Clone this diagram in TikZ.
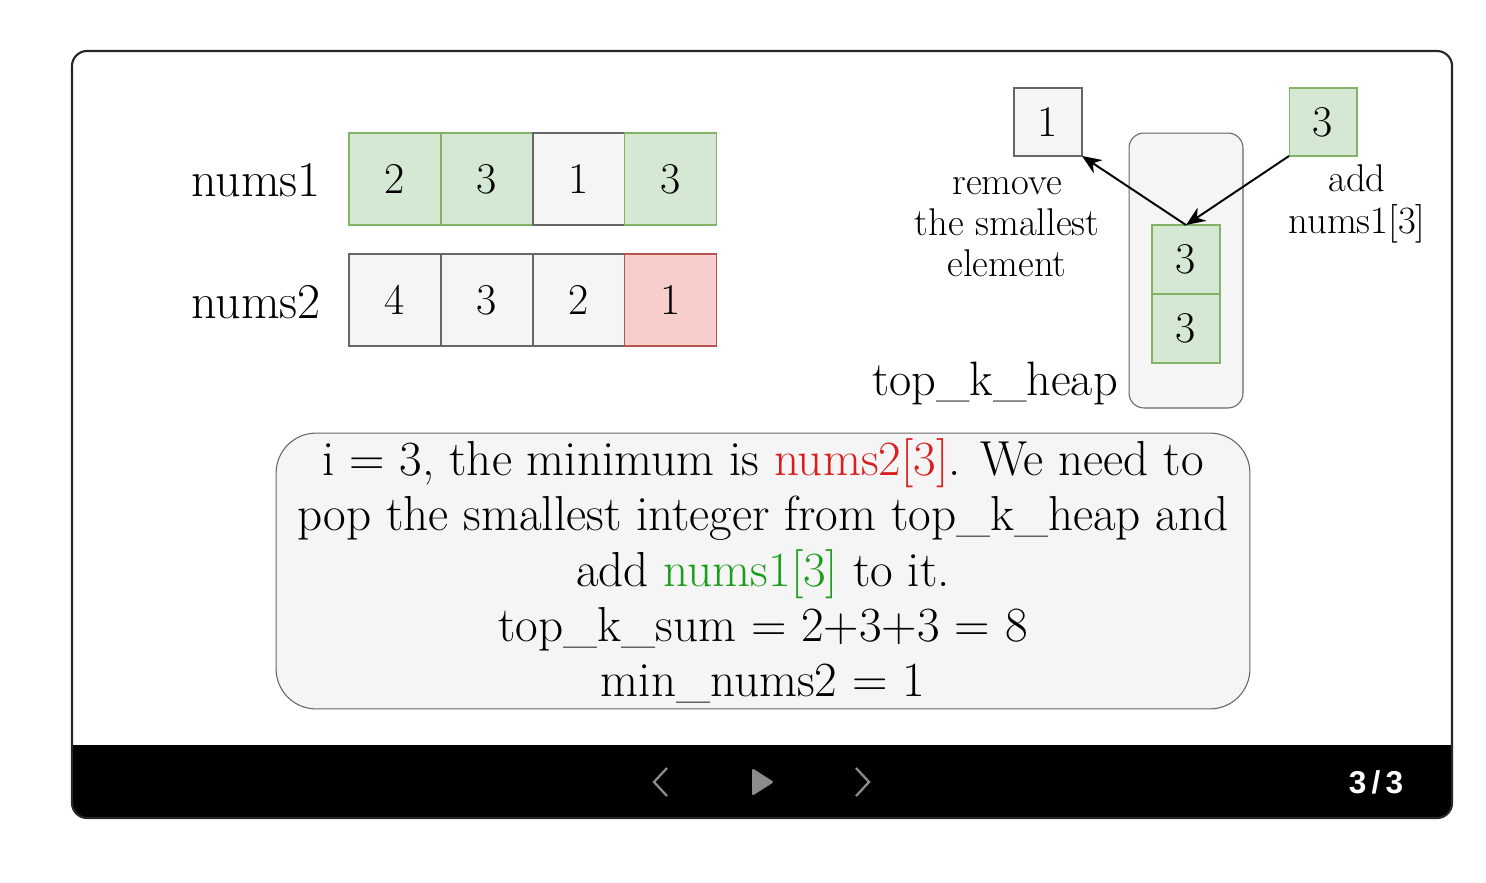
\documentclass[tikz,border=0pt]{standalone}
\usepackage{fontspec}
\newfontfamily\uifont{Liberation Sans}
\usepackage{tikz}
\usetikzlibrary{arrows.meta, positioning}
\definecolor{colorGreen}{HTML}{D5E8D4}
\definecolor{colorGreenLine}{HTML}{82B366}
\definecolor{colorGray}{HTML}{F5F5F5}
\definecolor{colorGrayLine}{HTML}{666666}
\definecolor{colorRed}{HTML}{F8CECC}
\definecolor{colorRedLine}{HTML}{B85450}
\definecolor{colorRedText}{HTML}{D91E1E}
\definecolor{colorGreenText}{HTML}{1C9E1C}
\definecolor{colorCtrl}{HTML}{8C8C8C}
\tikzstyle{cell} = [rectangle, minimum width=1.84cm, minimum height=1.84cm, inner sep=0pt, outer sep=0pt, line width=0.6pt, text centered, font=\fontsize{25}{28}\selectfont]
\tikzstyle{greencell} = [cell, draw=colorGreenLine, fill=colorGreen]
\tikzstyle{graycell} = [cell, draw=colorGrayLine, fill=colorGray]
\tikzstyle{redcell} = [cell, draw=colorRedLine, fill=colorRed]
\tikzstyle{heapcell} = [greencell, minimum width=1.36cm, minimum height=1.38cm]
\tikzstyle{smallbox} = [cell, minimum width=1.36cm, minimum height=1.36cm]
\tikzstyle{arrayname} = [font=\fontsize{28.5}{32}\selectfont]
\tikzstyle{note} = [align=center, font=\fontsize{22}{23.5}\selectfont]
\tikzstyle{arrow} = [line width=1.1pt, -{Stealth[length=11pt, width=9pt]}]

\begin{document}
\begin{tikzpicture}[x=0.02cm, y=-0.02cm]

		\useasboundingbox (0,0) rectangle (1486,882);

		% frame and player bar
		\begin{scope}
			\clip[rounded corners=0.3cm] (72,51) rectangle (1452,818);
			\fill[white] (72,51) rectangle (1452,818);
			\fill[black] (72,745) rectangle (1452,818);
		\end{scope}
		\draw[line width=1.2pt, color=black!85, rounded corners=0.3cm] (72,51) rectangle (1452,818);

		% arrays
		\node (labNums1)[arrayname] at (256,180) {nums1};
		\node (labNums2)[arrayname] at (256,302) {nums2};

		\node (n1a)[greencell] at (395,179) {2};
		\node (n1b)[greencell, right=0pt of n1a] {3};
		\node (n1c)[graycell, right=0pt of n1b] {1};
		\node (n1d)[greencell, right=0pt of n1c] {3};

		\node (n2a)[graycell] at (395,300) {4};
		\node (n2b)[graycell, right=0pt of n2a] {3};
		\node (n2c)[graycell, right=0pt of n2b] {2};
		\node (n2d)[redcell, right=0pt of n2c] {1};

		% heap
		\node (heapBox)[rectangle, rounded corners=0.3cm, draw=colorGrayLine, fill=colorGray, line width=0.6pt, minimum width=2.28cm, minimum height=5.5cm] at (1186,270.5) {};
		\node (heapTop)[heapcell] at (1186,259.5) {3};
		\node (heapBot)[heapcell, below=0pt of heapTop] {3};
		\node (heapName)[arrayname, anchor=east, font=\fontsize{27.5}{32}\selectfont] at (1124,383) {top\_k\_heap};

		\node (popped)[smallbox, draw=colorGrayLine, fill=colorGray] at (1048,122) {1};
		\node (pushed)[smallbox, draw=colorGreenLine, fill=colorGreen] at (1323,122) {3};

		\node (remNote)[note] at (1007,227) {remove\\the smallest\\element};
		\node (addNote)[note] at (1357,204) {add\\nums1[3]};

		\draw[arrow] (heapTop.north) -- (popped.south east);
		\draw[arrow] (pushed.south west) -- (heapTop.north);

		% explanation
		\node (explain)[rectangle, rounded corners=0.8cm, draw=colorGrayLine, fill=colorGray, line width=0.6pt, minimum width=19.48cm, minimum height=5.5cm, align=center, font=\fontsize{28}{31.4}\selectfont] at (763,571)
			{i = 3, the minimum is \textcolor{colorRedText}{nums2[3]}. We need to\\
			pop the smallest integer from top\_k\_heap and\\
			add \textcolor{colorGreenText}{nums1[3]} to it.\\
			top\_k\_sum = 2+3+3 = 8\\
			min\_nums2 = 1};

		% player controls
		\draw[colorCtrl, line width=1.3pt] (667,768) -- (654,782) -- (667,796);
		\fill[colorCtrl, rounded corners=1pt] (752,768) -- (774,782) -- (752,796) -- cycle;
		\draw[colorCtrl, line width=1.3pt] (856,768) -- (869,782) -- (856,796);
		\node (pageNo)[text=white, font=\uifont\bfseries\fontsize{18}{20}\selectfont] at (1376,782) {3\,/\,3};

	\end{tikzpicture}
\end{document}
